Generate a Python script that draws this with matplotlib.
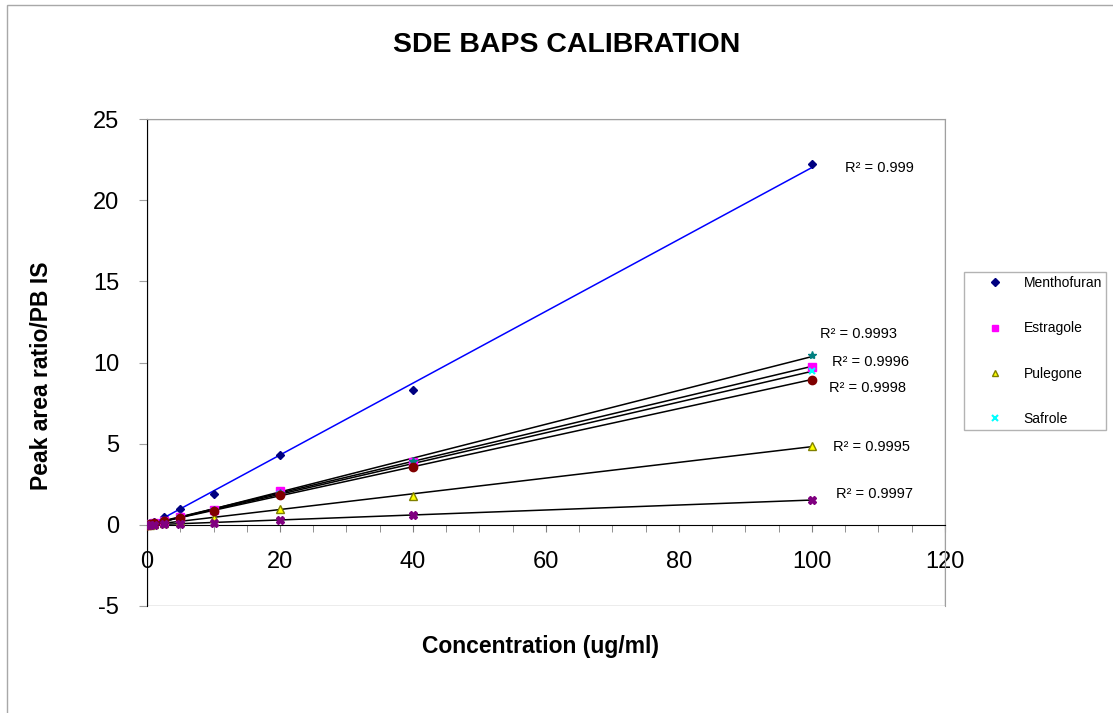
import matplotlib.pyplot as plt
from matplotlib.patches import Rectangle
import numpy as np

plt.rcParams['font.family'] = ['Liberation Sans', 'DejaVu Sans']
plt.rcParams['axes.unicode_minus'] = False

# concentrations of the calibration standards (ug/ml)
conc = [0, 0.5, 1, 2.5, 5, 10, 20, 40, 100]

# peak area ratio against the PB internal standard
menthofuran = [0, 0.1, 0.2, 0.5, 1.0, 1.9, 4.3, 8.3, 22.2]
estragole = [0, 0.05, 0.1, 0.25, 0.5, 0.9, 2.1, 3.9, 9.75]
pulegone = [0, 0.02, 0.05, 0.12, 0.22, 0.4, 0.98, 1.8, 4.86]
safrole = [0, 0.05, 0.1, 0.22, 0.45, 0.88, 1.9, 3.8, 9.45]
series5 = [0, 0.05, 0.1, 0.24, 0.48, 0.92, 1.95, 3.95, 10.45]
series6 = [0, 0.04, 0.09, 0.21, 0.44, 0.85, 1.85, 3.57, 8.95]
series7 = [0, 0.01, 0.02, 0.04, 0.07, 0.13, 0.3, 0.58, 1.54]

r2_text = ['0.999', '0.9996', '0.9995', None, '0.9993', '0.9998', '0.9997']
r2_pos = [(105, 22.0), (103, 10.05), (103.2, 4.8), None,
          (101.2, 11.75), (102.6, 8.45), (103.6, 1.9)]

series = [
    ('Menthofuran', menthofuran, dict(marker='D', color='#000080', ms=4.5)),
    ('Estragole', estragole, dict(marker='s', color='#ff00ff', ms=5.5)),
    ('Pulegone', pulegone, dict(marker='^', color='#ffff00', mec='#808000', ms=6)),
    ('Safrole', safrole, dict(marker='x', color='#00ffff', ms=5, mew=1.5)),
    ('_s5', series5, dict(marker='*', color='#008080', ms=6)),
    ('_s6', series6, dict(marker='o', color='#800000', ms=6)),
    ('_s7', series7, dict(marker='X', color='#800080', ms=6)),
]

fig = plt.figure(figsize=(11.13, 7.13), dpi=100)
ax = fig.add_axes([147 / 1113, 1 - 606 / 713, 798 / 1113, 487 / 713])

x = np.array(conc, dtype=float)
handles = []
for i, (name, vals, style) in enumerate(series):
    y = np.array(vals, dtype=float)
    # linear trend line fitted to the standards
    k, b = np.polyfit(x, y, 1)
    line_color = 'blue' if i == 0 else 'black'
    ax.plot([0, 100], [b, k * 100 + b], color=line_color, lw=1.1, zorder=2)
    h, = ax.plot(x, y, ls='none', label=name, zorder=3, **style)
    if not name.startswith('_'):
        handles.append(h)
    if r2_text[i] is not None:
        ax.text(r2_pos[i][0], r2_pos[i][1], f'R² = {r2_text[i]}',
                fontsize=10.5, va='center', ha='left')

ax.set_xlim(0, 120)
ax.set_ylim(-5, 25)
ax.set_xticks(range(0, 121, 20))
ax.set_xticks(range(0, 121, 5), minor=True)
ax.set_yticks(range(-5, 26, 5))

# x axis crosses at y = 0
ax.spines['bottom'].set_position(('data', 0))
ax.spines['bottom'].set_color('black')
ax.spines['left'].set_color('black')
for s in ['top', 'right']:
    ax.spines[s].set_color('#a0a0a0')
ax.add_patch(Rectangle((0, 0), 1, 1, transform=ax.transAxes, fill=False,
                       ec='#a0a0a0', lw=1, zorder=0))

ax.tick_params(axis='x', which='both', direction='out', length=5,
               color='#808080', labelsize=17, pad=14)
ax.tick_params(axis='y', direction='out', length=6, color='#a0a0a0',
               labelsize=17, pad=14)

fig.text(567 / 1113, 1 - 45 / 713, 'SDE BAPS CALIBRATION', fontsize=20.5,
         fontweight='bold', ha='center', va='center')
fig.text(540 / 1113, 1 - 647 / 713, 'Concentration (ug/ml)', fontsize=16.5,
         fontweight='bold', ha='center', va='center')
fig.text(42 / 1113, 1 - 376 / 713, 'Peak area ratio/PB IS', fontsize=16.5,
         fontweight='bold', ha='center', va='center', rotation=90)

leg = fig.legend(handles=handles, loc='upper left',
                 bbox_to_anchor=(964 / 1113, 1 - 272 / 713), fontsize=10,
                 frameon=True, fancybox=False, edgecolor='#a0a0a0',
                 labelspacing=2.25, handlelength=3.9, handletextpad=0.1,
                 borderpad=0.3, borderaxespad=0, markerscale=0.8)
leg.get_frame().set_linewidth(1)

# outer chart frame
fig.patches.append(Rectangle((7 / 1113, -0.05), 1.1, 1 - 5 / 713 + 0.05,
                             transform=fig.transFigure, fill=False,
                             ec='#a8a8a8', lw=1))

plt.savefig('out.png', dpi=100)
